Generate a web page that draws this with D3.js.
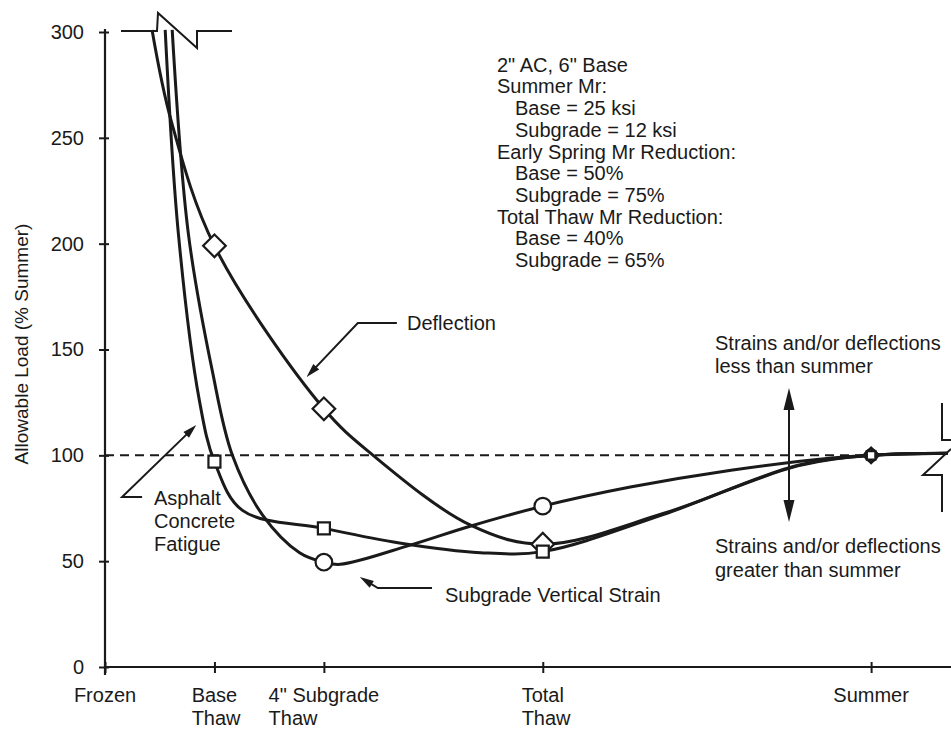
<!DOCTYPE html>
<html><head><meta charset="utf-8">
<script src="https://cdn.jsdelivr.net/npm/d3@7"></script>
<style>
body{margin:0;background:#fff}
svg{display:block}
text{font-family:"Liberation Sans",Arial,Helvetica,sans-serif;fill:#1a1a1a}
</style>
</head><body><svg id="c" width="951" height="732"></svg>
<script>
// ---------- data ----------
const stageLine1 = ["Frozen", "Base", "4\" Subgrade", "Total", "Summer"];
const stageLine2 = ["", "Thaw", "Thaw", "Thaw", ""];
const stagePos   = [0, 1, 2, 4, 7];
const yTicks     = [0, 50, 100, 150, 200, 250, 300];
const reference  = 100;

// traced curves: stage position, allowable load (% summer)
const deflectionX = [0.43, 0.605, 1, 2, 2.45, 3.34, 4, 5.1, 6.33, 7, 7.7];
const deflectionY = [301, 258, 199, 122, 100, 67, 58, 72.5, 95, 100, 101];
const fatigueX    = [0.55, 0.67, 0.862, 1, 1.256, 2, 2.69, 3.43, 4, 5.1, 6.33, 7, 7.7];
const fatigueY    = [301, 205, 126, 97, 74, 65.5, 58.6, 54, 54.5, 72, 95.3, 100, 101];
const strainX     = [0.614, 0.761, 0.98, 1.164, 1.44, 1.778, 2, 2.15, 2.79, 3.336, 4, 4.8, 5.72, 6.64, 7, 7.7];
const strainY     = [301, 205, 140, 100, 71.8, 54, 49.5, 48.5, 57.6, 66.5, 76, 85, 93, 98.7, 100, 101];

// plotted markers
const deflectionMarkX = [1, 2, 4, 7];
const deflectionMarkY = [199, 122, 58, 100];
const fatigueMarkX    = [1, 2, 4, 7];
const fatigueMarkY    = [97, 65.5, 54.5, 100];
const strainMarkX     = [2, 4, 7];
const strainMarkY     = [49.5, 76, 100];

const conditions = [
  ["2\" AC, 6\" Base", 0], ["Summer Mr:", 0], ["Base = 25 ksi", 1], ["Subgrade = 12 ksi", 1],
  ["Early Spring Mr Reduction:", 0], ["Base = 50%", 1], ["Subgrade = 75%", 1],
  ["Total Thaw Mr Reduction:", 0], ["Base = 40%", 1], ["Subgrade = 65%", 1]
];

// ---------- drawing ----------
const svg = d3.select("#c");
const x = d3.scaleLinear().domain([0, 7.73]).range([105, 951]);
const y = d3.scaleLinear().domain([0, 300]).range([667, 32]);
const ink = "#1a1a1a";

// y axis
const yAx = svg.append("g").attr("transform", `translate(${x(0)},0)`)
  .call(d3.axisLeft(y).tickValues(yTicks).tickSize(0).tickPadding(21));
yAx.select(".domain").remove();
yAx.selectAll("text").attr("font-size", 20).style("font-family", '"Liberation Sans",Arial,sans-serif').attr("fill", ink);
yAx.selectAll(".tick line").attr("x1", -6).attr("x2", 4).attr("stroke", ink).attr("stroke-width", 2);
svg.append("line").attr("x1", x(0)).attr("x2", x(0)).attr("y1", y(300) - 3).attr("y2", y(0) + 8)
  .attr("stroke", ink).attr("stroke-width", 2.2);

// x axis
const xAx = svg.append("g").attr("transform", `translate(0,${y(0)})`)
  .call(d3.axisBottom(x).tickValues(stagePos).tickSize(0).tickFormat(""));
xAx.select(".domain").remove();
xAx.selectAll(".tick line").attr("y1", -5).attr("y2", 6).attr("stroke", ink).attr("stroke-width", 2);
svg.append("line").attr("x1", x(0)).attr("x2", 951).attr("y1", y(0)).attr("y2", y(0))
  .attr("stroke", ink).attr("stroke-width", 2.2);

// category labels: first line centred on tick, second line left-aligned with first
stagePos.forEach((p, i) => {
  const t1 = svg.append("text").attr("font-size", 20).attr("y", y(0) + 35).text(stageLine1[i]);
  const w = t1.node().getComputedTextLength();
  const left = x(p) - w / 2;
  t1.attr("x", left);
  if (stageLine2[i]) svg.append("text").attr("font-size", 20).attr("x", left).attr("y", y(0) + 58).text(stageLine2[i]);
});

// y label
svg.append("text").attr("transform", `translate(28,${y(0) - 323}) rotate(-90)`)
  .attr("text-anchor", "middle").attr("font-size", 19).text("Allowable Load (% Summer)");

// reference dashed line
svg.append("line").attr("x1", x(0)).attr("x2", x(7)).attr("y1", y(reference)).attr("y2", y(reference))
  .attr("stroke", ink).attr("stroke-width", 2).attr("stroke-dasharray", "9,6");

// curves
const line = d3.line().x(d => x(d[0])).y(d => y(d[1])).curve(d3.curveCatmullRom.alpha(0.5));
[[deflectionX, deflectionY], [fatigueX, fatigueY], [strainX, strainY]].forEach(([xs, ys]) => {
  svg.append("path").datum(xs.map((v, i) => [v, ys[i]])).attr("d", line)
    .attr("fill", "none").attr("stroke", ink).attr("stroke-width", 3).attr("stroke-linejoin", "round");
});

// top-left break symbol
const brk = d3.line();
svg.append("path").attr("d", brk([[121, 31], [157, 31], [158, 13], [197, 48], [197, 31], [232, 31]]))
  .attr("fill", "none").attr("stroke", ink).attr("stroke-width", 2);
// right break symbol
svg.append("path").attr("d", brk([[942, 403], [942, 440], [951, 440]]))
  .attr("fill", "none").attr("stroke", ink).attr("stroke-width", 2);
svg.append("path").attr("d", brk([[951, 449], [923, 475], [942, 475], [942, 512]]))
  .attr("fill", "none").attr("stroke", ink).attr("stroke-width", 2);

// markers
const isSummer = v => v === 7;
svg.selectAll(".dia").data(deflectionMarkX.map((v, i) => [v, deflectionMarkY[i]])).join("path")
  .attr("d", d => d3.symbol(d3.symbolSquare, isSummer(d[0]) ? 121 : 256)())
  .attr("transform", d => `translate(${x(d[0])},${y(d[1])}) rotate(45)`)
  .attr("fill", "#fff").attr("stroke", ink).attr("stroke-width", 2.2);
svg.selectAll(".cir").data(strainMarkX.map((v, i) => [v, strainMarkY[i]])).join("circle")
  .attr("cx", d => x(d[0])).attr("cy", d => y(d[1])).attr("r", d => isSummer(d[0]) ? 6 : 8.3)
  .attr("fill", "#fff").attr("stroke", ink).attr("stroke-width", 2.2);
svg.selectAll(".sq").data(fatigueMarkX.map((v, i) => [v, fatigueMarkY[i]])).join("path")
  .attr("d", d => d3.symbol(d3.symbolSquare, isSummer(d[0]) ? 72 : 144)())
  .attr("transform", d => `translate(${x(d[0])},${y(d[1])})`)
  .attr("fill", "#fff").attr("stroke", ink).attr("stroke-width", 2.2);

// arrows (annotation leaders), points in data units
function arrow(pts, headLen, headW, both) {
  const p = pts.map(d => [x(d[0]), y(d[1])]);
  const head = (tip, from) => {
    const dx = tip[0] - from[0], dy = tip[1] - from[1], L = Math.hypot(dx, dy);
    const ux = dx / L, uy = dy / L;
    const bx = tip[0] - ux * headLen, by = tip[1] - uy * headLen;
    svg.append("path").attr("d", `M${tip[0]},${tip[1]}L${bx - uy * headW / 2},${by + ux * headW / 2}L${bx + uy * headW / 2},${by - ux * headW / 2}Z`)
      .attr("fill", ink);
    return [tip[0] - ux * headLen * 0.7, tip[1] - uy * headLen * 0.7];
  };
  const n = p.length;
  const q = p.slice();
  q[n - 1] = head(p[n - 1], p[n - 2]);
  if (both) q[0] = head(p[0], p[1]);
  svg.append("path").attr("d", d3.line()(q)).attr("fill", "none").attr("stroke", ink).attr("stroke-width", 2);
}
arrow([[2.667, 162.5], [2.31, 162.5], [1.842, 137]], 14, 8);
arrow([[0.339, 80.3], [0.156, 80.3], [0.834, 114.3]], 14, 8);
arrow([[2.988, 37.3], [2.493, 37.3], [2.328, 42.5]], 14, 8);
arrow([[6.25, 131.8], [6.25, 68.5]], 22, 11, true);

// annotation texts
const txt = (s, px, py) => svg.append("text").attr("font-size", 20).attr("x", px).attr("y", py).text(s);
conditions.forEach((c, i) => txt(c[0], 497 + c[1] * 18, 71.7 + i * 21.7));
txt("Deflection", 407, 330);
txt("Subgrade Vertical Strain", 445, 602);
txt("Asphalt", 154, 505);
txt("Concrete", 154, 528);
txt("Fatigue", 154, 551);
txt("Strains and/or deflections", 715, 350);
txt("less than summer", 715, 373);
txt("Strains and/or deflections", 715, 553);
txt("greater than summer", 715, 577);
</script>
</body></html>
